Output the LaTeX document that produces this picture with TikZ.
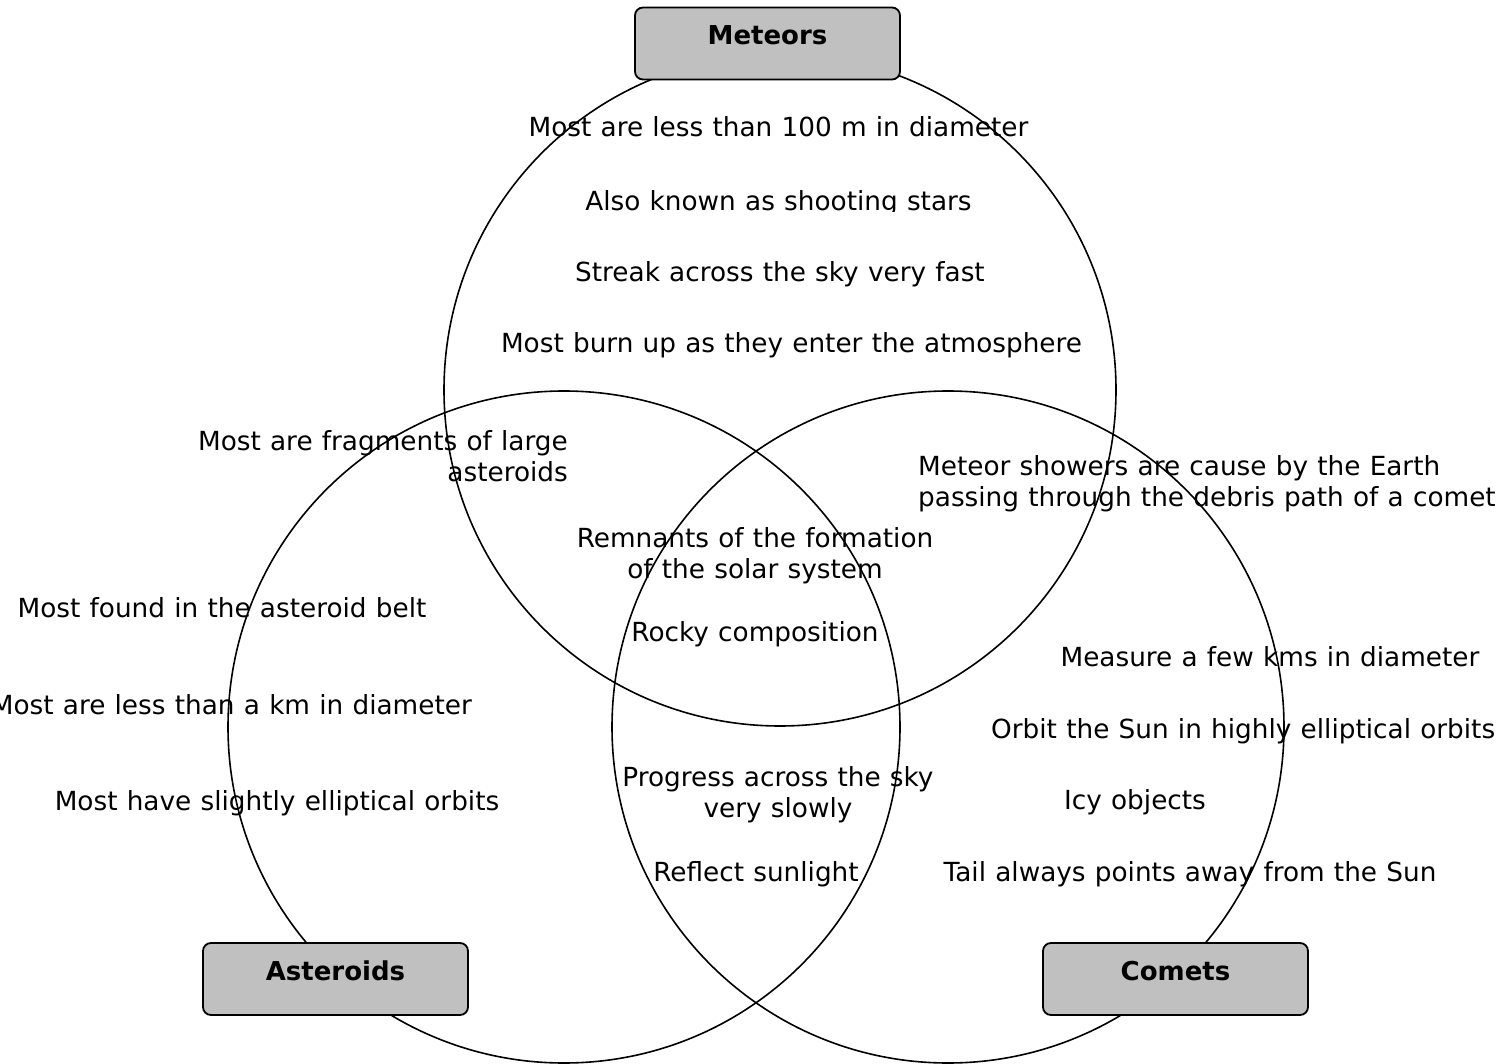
\documentclass[tikz,border=0pt]{standalone}
\usepackage{fontspec}
\setmainfont{DejaVu Sans}[WordSpace=1.107]
\definecolor{boxgray}{HTML}{C0C0C0}
\tikzset{
  ring/.style={draw=black, line width=1.6pt, circle, minimum size=672pt, inner sep=0pt, outer sep=0pt},
  catbox/.style={draw=black, line width=1.8pt, fill=boxgray, rounded corners=8pt,
    minimum width=265pt, minimum height=72pt, inner sep=0pt},
  cattext/.style={font=\fontsize{26}{31}\selectfont\bfseries, anchor=base, inner sep=0pt},
  fact/.style={font=\fontsize{26.3}{31}\selectfont, inner sep=0pt, anchor=base},
  factml/.style={fact, align=center}
}
\begin{document}
\begin{tikzpicture}[x=1pt, y=-1pt]
\clip (0,0) rectangle (1502,1064);
\fill[white] (0,0) rectangle (1502,1064);
% circles
\node[ring] (meteorsC) at (780,390) {};
\node[ring] (asteroidsC) at (564,727) {};
\node[ring] (cometsC) at (948,727) {};
% category boxes
\node[catbox] (meteorsBox) at (767.5,43.5) {};
\node[catbox] (asteroidsBox) at (335.5,979) {};
\node[catbox] (cometsBox) at (1175.5,979) {};
\node[cattext] (meteorsLbl) at ([yshift=-1.5pt]meteorsBox.center) {Meteors};
\node[cattext] (asteroidsLbl) at ([yshift=-1.5pt]asteroidsBox.center) {Asteroids};
\node[cattext] (cometsLbl) at ([yshift=-1.5pt]cometsBox.center) {Comets};
% meteors only
\node[fact] (m1) at (778.5,137) {Most are less than 100 m in diameter};
\begin{scope}
\clip (300,150) rectangle (1200,212);
\node[fact] (m2) at (778.5,211) {Also known as shooting stars};
\end{scope}
\node[fact] (m3) at (780,281.5) {Streak across the sky very fast};
\node[fact] (m4) at (791.5,353) {Most burn up as they enter the atmosphere};
% meteors & asteroids
\node[factml, align=right, anchor=base east] (ma) at (568,481) {Most are fragments of large\\asteroids};
% meteors & comets
\node[factml, align=left, anchor=base west] (mc) at (918,506) {Meteor showers are cause by the Earth\\passing through the debris path of a comet};
% all three
\node[factml] (all1) at (755,578) {Remnants of the formation\\of the solar system};
\node[fact] (all2) at (755,641) {Rocky composition};
% asteroids only
\node[fact] (a1) at (222,617) {Most found in the asteroid belt};
\node[fact, anchor=base east] (a2) at (472,714) {Most are less than a km in diameter};
\node[fact] (a3) at (277,810) {Most have slightly elliptical orbits};
% asteroids & comets
\node[factml] (ac1) at (778,817) {Progress across the sky\\very slowly};
\node[fact] (ac2) at (756,881) {Reflect sunlight};
% comets only
\node[fact] (c1) at (1270,666) {Measure a few kms in diameter};
\node[fact, anchor=base west] (c2) at (991,738) {Orbit the Sun in highly elliptical orbits};
\node[fact] (c3) at (1135,809) {Icy objects};
\node[fact] (c4) at (1190,881) {Tail always points away from the Sun};
\end{tikzpicture}
\end{document}
